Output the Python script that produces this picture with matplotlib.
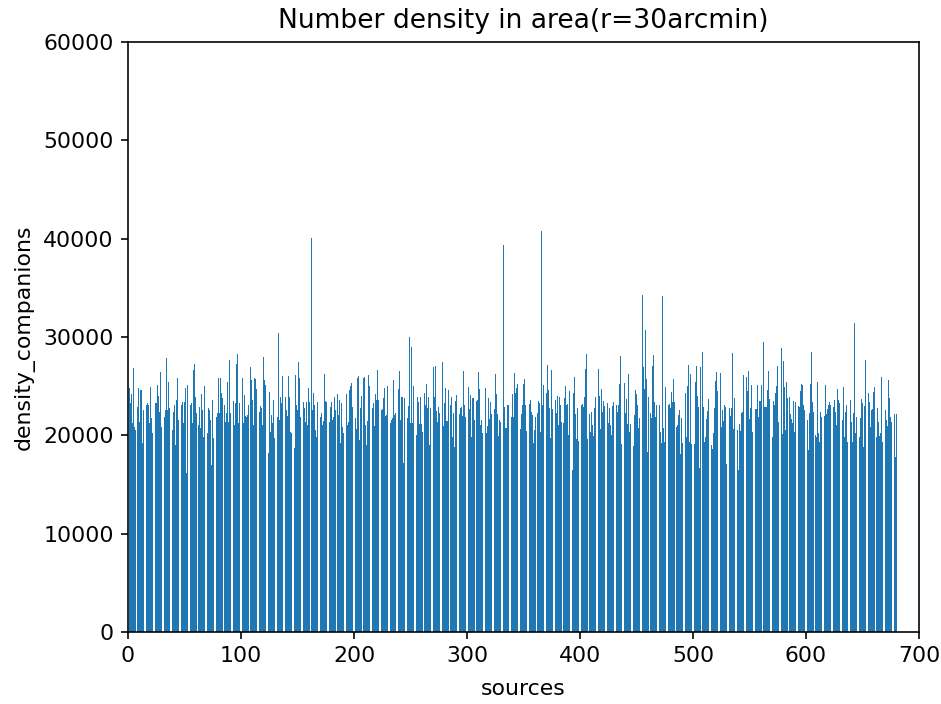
import numpy as np
import matplotlib.pyplot as plt

# companion density per source, in blocks of source index
dens_000_132 = [
    23000, 24780, 23250, 24200, 21220, 26810, 20880, 20540, 22910, 24780,
    21390, 24610, 24610, 19190, 22580, 23420, 23080, 23250, 23080, 21220,
    24950, 21730, 20200, 22400, 23250, 23250, 25120, 24000, 22410, 26470,
    20880, 23590, 21900, 22580, 27830, 22580, 25460, 22740, 23760, 20540,
    22410, 23080, 19020, 23590, 25800, 21560, 28000, 23080, 23420, 21220,
    23420, 24780, 16200, 25120, 25630,
    23080, 23250, 21220, 26640, 27250, 23930, 22240, 21050, 22910, 20710,
    24200, 22580, 19860, 25020, 23080, 20200, 22740, 22580, 21560, 16980,
    23590, 19690, 23760, 21900, 22240, 25800, 22240, 25800, 24270, 23760,
    23080, 21390, 22240, 25460, 21390, 27660, 22240, 21900, 23490, 21050,
    23250, 27250, 28270, 21220, 23250, 21900, 25800, 21220, 24100, 21970,
    21900, 22070, 23080, 26980, 25630, 23590, 21050, 25800,
    25690, 24680, 21050, 22410, 22980, 22740, 21050, 27930, 25630, 25120,
    20540, 18240, 24440, 20370, 22070, 21220, 23590, 19690, 23860, 21900,
]
dens_133 = [30400]
dens_134_161 = [
    21560, 23860, 23250, 26030, 23250, 23930, 22580, 21970, 26030, 23930,
    20370, 20200, 21050, 18680, 26140, 23080, 22580, 27490, 25800, 21900,
    22810, 23360, 22740, 21390, 23420, 21050, 24850, 23420,
]
dens_162 = [40100]
dens_163_248 = [
    22580, 24270, 23080, 20540, 19860, 23420, 21970,
    21900, 22240, 21050, 21490, 26240, 23490, 23420, 20610, 21390, 22910,
    23420, 21560, 21900, 23930, 22580, 24200, 22070, 23590, 19250, 23250,
    20880, 20270, 23930, 24200, 21050, 21390, 24610, 25020, 25290, 22850,
    22980, 21730, 20610, 25800, 26030, 19520, 22740, 24000, 25800, 25900,
    21050, 19020, 21490, 26140, 25050, 21560, 22740, 23250, 20950, 24200,
    23590, 26640, 23590, 25900, 22580, 22640, 23760,
    24780, 21970, 22070, 25020, 22740, 21290, 21560, 21730, 25630, 22070,
    22240, 20270, 24680, 26540, 21560, 23930, 23860, 17150, 23760, 20710,
    21730, 22980,
]
dens_249_251 = [29970, 21220, 29020]
dens_252_331 = [
    21220, 25020, 21390, 20030, 23860, 23420, 21150, 23860, 21150, 20370,
    24340, 23080, 25190, 22740, 23860, 19020, 22740, 26370, 26920, 23860,
    27050, 22510, 21390, 22850, 22310, 24270, 27490, 20950, 23250, 24780,
    21490,
    21490, 24610, 23080, 23860, 19860, 22310, 18780, 23530, 24100, 21560,
    22170, 22740, 22850, 21970, 26580, 23080, 21900, 23590, 24950, 22640,
    24100, 19860, 23760, 23760, 21560, 23530, 23590, 26470, 24680, 21050,
    21560, 20270, 21290, 24780, 20270, 20950, 23760, 21630, 23420, 22170,
    24200, 22640, 26240, 24200, 22170, 19930, 21560, 21390, 22910,
]
dens_332 = [39400]
dens_333_365 = [
    22850, 20710, 20710, 23080, 23080,
    22580, 21830, 24200, 21830, 26370, 24270, 24850, 25190, 23590, 20610,
    22170, 23080, 25190, 25730, 23080, 20440, 21050, 23190, 23590, 22410,
    22070, 19250, 20540, 21900, 22240, 23490, 23250, 20370,
]
dens_366 = [40800]
dens_367_454 = [
    23080, 25120, 24950, 24270, 27150, 24610, 22740, 19690, 26640, 22640,
    23660, 23590, 22310, 24000, 21050, 23930, 23080, 21390, 21220, 23760,
    25020, 23080, 23190, 20030, 24510, 21900, 16470, 24270, 25970,
    22170, 19590, 22740, 19460, 23590, 23080, 23190, 22910, 23930, 26710,
    28270, 19590, 22170, 20370, 22410, 21050, 19930, 22740, 23930, 24100,
    26710, 24000, 20610, 24680, 22410, 23490, 22980, 23320, 23250, 21290,
    22740, 21050, 20030, 22980, 23420, 24200, 23080, 22410, 23080, 25190,
    28070, 19120, 23250, 25290, 22310, 23660, 21150, 26200, 20370, 21150,
    20470, 18910, 22070, 24610, 24200, 23080, 20710, 21730,
    25630,
]
dens_455 = [34300]
dens_456_472 = [
    26920, 24680, 30710, 25690, 18340, 23930, 22310, 21730, 27050, 28170,
    23420, 21900, 23080, 25800, 23080, 20370, 19250,
]
dens_473 = [34200]
dens_474_642 = [
    20710, 19360, 24880, 21290, 23080, 23190, 22740, 24440, 23420, 25690,
    23420, 20880, 21050, 22070, 22580, 18100, 21730, 19190, 30030, 24340,
    19860, 25020, 27150, 19360, 26240, 19120, 27830, 19120, 25460, 27050,
    24000, 22850, 16640, 26980,
    28500,
    22850, 19360, 19860, 21630, 22510, 23660, 21630, 19020, 18580, 20270,
    22740, 25560, 26470, 24540, 20710, 26370, 20810, 22580, 21490, 23080,
    22910, 17080, 22910, 22740, 21970, 22740, 28340, 20610, 23760, 23930,
    20540, 16470, 21150, 20470, 22240, 22410, 26140, 27150, 25900, 24540,
    26580, 21630, 22740, 25120, 20370, 18580, 22640, 22640, 25120, 21900,
    23490, 23530, 25120, 29530, 22910, 22910,
    22910, 24610, 26580, 23660, 21900, 19800, 23490, 23080, 24270, 25020,
    27050, 21390, 20140, 28850, 20140, 27590, 24880, 20540, 25460, 23760,
    23860, 22170, 21630, 21220, 23490, 20370, 23420, 23250, 22980, 22910,
    24540, 25220, 25120, 23080, 22580, 21830, 21560, 18510, 22240, 25220,
    28510, 23420, 22410, 20030, 19860, 25460, 20270, 19360, 22410, 21900,
    26140, 21970, 25120, 22170, 22640, 23080, 23420, 23080, 20470,
    22850, 23590, 22410, 21050, 24680, 23590, 23320, 20030, 21560, 24950,
    19860, 22410, 23080, 19360, 20370, 23590, 21390, 19360, 22310,
]
dens_643 = [31400]
dens_644_680 = [
    20200, 21830, 26370, 19860, 21730, 23660, 23250, 18850, 22980, 27660,
    22910, 24340, 23420, 20880, 22580, 22640, 24440, 24880, 19860, 22740,
    21390, 19930, 20200, 25900, 19360, 20880, 22580, 21560, 20950, 25630,
    23760, 21900, 21390, 20200, 22170, 17830, 22170,
]

density = np.array(
    dens_000_132 + dens_133 + dens_134_161 + dens_162 + dens_163_248
    + dens_249_251 + dens_252_331 + dens_332 + dens_333_365 + dens_366
    + dens_367_454 + dens_455 + dens_456_472 + dens_473 + dens_474_642
    + dens_643 + dens_644_680
)
sources = np.arange(len(density))

plt.rcParams["font.size"] = 10.8

fig, ax = plt.subplots(figsize=(942 / 147, 704 / 147), dpi=147)
ax.bar(sources, density)
ax.set_xlim(0, 700)
ax.set_ylim(0, 60000)
ax.set_xlabel("sources", labelpad=6)
ax.set_ylabel("density_companions")
ax.set_title("Number density in area(r=30arcmin)", fontsize=13, pad=7)
fig.subplots_adjust(left=0.1359, right=0.9756, top=0.9403, bottom=0.1023)
fig.savefig("out.png", dpi=147)
